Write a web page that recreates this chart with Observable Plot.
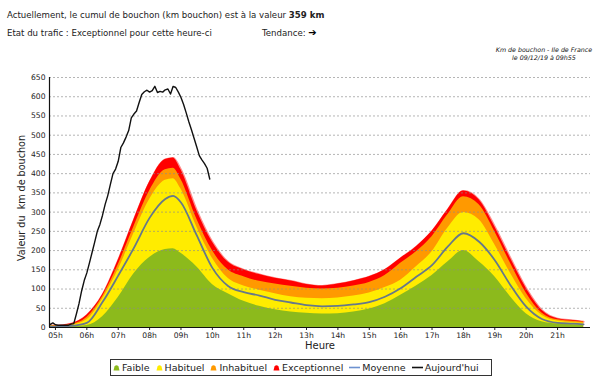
<!DOCTYPE html>
<html>
<head>
<meta charset="utf-8">
<script src="https://cdn.jsdelivr.net/npm/d3@7"></script>
<script src="https://cdn.jsdelivr.net/npm/@observablehq/plot@0.6"></script>
<style>
  html, body { margin: 0; padding: 0; background: #fff; }
  body { font-family: "DejaVu Sans", Verdana, sans-serif; color: #222; }
  #wrap { position: relative; width: 600px; height: 383px; overflow: hidden; }
  .abs { position: absolute; white-space: pre; line-height: 1; }
  #l1 { left: 7px; top: 11px; font-size: 8.6px; }
  #l2 { left: 7px; top: 29px; font-size: 8.6px; }
  #l3 { left: 262px; top: 28px; font-size: 8.6px; }
  #l3 .arr { font-weight: bold; font-size: 10px; color: #000; }
  #note { left: 484px; top: 46px; width: 120px; text-align: center; font-size: 6.3px; font-style: italic; line-height: 1.25; color: #111; }
  #chart { position: absolute; left: 0; top: 60px; }
  #xlab { left: 0; width: 640px; text-align: center; top: 341px; font-size: 10px; }
  #ylab { font-size: 9.6px; left: 22px; top: 198px; transform: translate(-50%, -50%) rotate(-90deg); }
  #legend { position: absolute; left: 110px; top: 359px; width: 382px; height: 17px; border: 1px solid #333; font-size: 9.5px; display: flex; align-items: center; box-sizing: border-box; padding-left: 2px; }
  .item { display: flex; align-items: center; margin-right: 6px; white-space: pre; }
  .item svg { margin-right: 2px; }
</style>
</head>
<body>
<div id="wrap">
  <div id="l1" class="abs">Actuellement, le cumul de bouchon (km bouchon) est à la valeur <b>359 km</b></div>
  <div id="l2" class="abs">Etat du trafic : Exceptionnel pour cette heure-ci</div>
  <div id="l3" class="abs">Tendance: <span class="arr">➔</span></div>
  <div id="note" class="abs">Km de bouchon - Ile de France
le 09/12/19 à 09h55</div>
  <div id="chart"></div>
  <div id="xlab" class="abs">Heure</div>
  <div id="ylab" class="abs">Valeur du  km de bouchon</div>
  <div id="legend"></div>
</div>
<script>
// ---- data (km de bouchon) ----
const hours        = [4.83, 5, 5.5, 6, 6.5, 7, 7.5, 8, 8.5, 8.75, 9, 9.5, 10, 10.5, 11, 11.5, 12, 12.5, 13, 13.5, 14, 14.5, 15, 15.5, 16, 16.5, 17, 17.5, 18, 18.5, 19, 19.5, 20, 20.5, 21, 21.5, 21.83];
const exceptionnel = [6, 5, 10, 32, 85, 175, 280, 378, 437, 441, 410, 305, 222, 170, 150, 138, 128, 121, 112, 108, 113, 121, 132, 150, 180, 210, 250, 306, 355, 332, 262, 180, 102, 45, 23, 18, 15];
const inhabituel   = [5, 4, 8, 26, 80, 163, 262, 355, 410, 414, 385, 283, 200, 150, 132, 120, 113, 107, 102, 100, 102, 108, 117, 135, 167, 197, 236, 293, 340, 319, 249, 167, 90, 38, 20, 16, 14];
const habituel     = [4, 3, 6, 20, 74, 150, 245, 333, 383, 387, 360, 262, 180, 128, 108, 97, 88, 80, 76, 75, 77, 82, 90, 104, 123, 158, 197, 258, 299, 280, 215, 141, 75, 32, 17, 13, 11];
const moyenne      = [3, 2, 4, 12, 66, 135, 207, 285, 334, 342, 325, 240, 155, 108, 92, 83, 72, 65, 58, 55, 56, 60, 66, 80, 102, 132, 162, 210, 245, 223, 175, 110, 54, 22, 12, 10, 8];
const faible       = [2, 1, 2, 5, 28, 78, 140, 182, 203, 205, 193, 158, 112, 88, 68, 55, 46, 40, 37, 35, 36, 40, 48, 62, 84, 108, 135, 170, 200, 171, 132, 80, 36, 15, 9, 7, 5];

const todayTimes  = ["04h50","04h55","05h00","05h05","05h10","05h15","05h20","05h25","05h30","05h35","05h40","05h45","05h50","05h55",
                     "06h00","06h05","06h10","06h15","06h20","06h25","06h30","06h35","06h40","06h45","06h50","06h55",
                     "07h00","07h05","07h10","07h15","07h20","07h25","07h30","07h35","07h40","07h45","07h50","07h55",
                     "08h00","08h05","08h10","08h15","08h20","08h25","08h30","08h35","08h40","08h45","08h50","08h55",
                     "09h00","09h05","09h10","09h15","09h20","09h25","09h30","09h35","09h40","09h45","09h50","09h55"];
const todayValues = [8, 12, 7, 6, 6, 6, 6, 6, 9, 10, 35, 62, 95, 122,
                     142, 168, 195, 222, 250, 268, 292, 320, 343, 372, 400, 412,
                     432, 468, 480, 495, 512, 545, 555, 563, 585, 606, 613, 617,
                     612, 616, 627, 611, 614, 612, 618, 620, 607, 627, 624, 612,
                     598, 580, 558, 535, 514, 492, 470, 447, 436, 426, 414, 386];

const xTickLabels = ["05h","06h","07h","08h","09h","10h","11h","12h","13h","14h","15h","16h","17h","18h","19h","20h","21h"];
const yTickValues = [0, 50, 100, 150, 200, 250, 300, 350, 400, 450, 500, 550, 600, 650];

const legendItems = [
  {label: "Faible", color: "#8cba1c", type: "area"},
  {label: "Habituel", color: "#ffec00", type: "area"},
  {label: "Inhabituel", color: "#ff9900", type: "area"},
  {label: "Exceptionnel", color: "#ff0000", type: "area"},
  {label: "Moyenne", color: "#6d92d0", type: "line"},
  {label: "Aujourd'hui", color: "#111111", type: "line"}
];

// ---- build tables ----
const bands = hours.map((h, i) => ({h, R: exceptionnel[i], O: inhabituel[i], Y: habituel[i], M: moyenne[i], G: faible[i]}));
const parseT = s => +s.slice(0, 2) + (+s.slice(3, 5)) / 60;
const today = todayTimes.map((t, i) => ({h: parseT(t), v: todayValues[i]}));
const xTickValues = xTickLabels.map(s => parseInt(s, 10));

const curve = "monotone-x";
const chart = Plot.plot({
  width: 600,
  height: 290,
  marginTop: 17,
  marginBottom: 23,
  marginLeft: 49,
  marginRight: 10,
  style: {fontFamily: "DejaVu Sans, Verdana, sans-serif", fontSize: "7.6px", color: "#222", background: "transparent"},
  x: {domain: [4.81, 22.05], ticks: xTickValues, tickFormat: d => xTickLabels[xTickValues.indexOf(d)], tickSize: 3, tickPadding: 2, label: null},
  y: {domain: [0, 650], ticks: yTickValues, tickSize: 0, tickPadding: 4, label: null},
  marks: [
    Plot.areaY(bands, {x: "h", y: "R", fill: "#ff0000", curve}),
    Plot.lineY(bands, {x: "h", y: "R", stroke: "#ff0000", strokeWidth: 2, strokeOpacity: 0.45, curve}),
    Plot.areaY(bands, {x: "h", y: "O", fill: "#ff9900", curve}),
    Plot.areaY(bands, {x: "h", y: "Y", fill: "#ffec00", curve}),
    Plot.areaY(bands, {x: "h", y: "G", fill: "#8cba1c", curve}),
    Plot.gridY(yTickValues.filter(d => d > 0), {stroke: "#8a8a8a", strokeOpacity: 0.8, strokeDasharray: "2,2", strokeWidth: 0.8}),
    Plot.lineY(bands, {x: "h", y: "M", stroke: "#66788a", strokeWidth: 1.8, curve}),
    Plot.lineY(today, {x: "h", y: "v", stroke: "#111", strokeWidth: 1.4}),
    Plot.ruleY([0], {stroke: "#111", strokeWidth: 1.2}),
    Plot.ruleX([4.81], {stroke: "#111", strokeWidth: 1.2})
  ]
});
document.getElementById("chart").appendChild(chart);

// ---- legend ----
const leg = document.getElementById("legend");
for (const it of legendItems) {
  const d = document.createElement("div");
  d.className = "item";
  const icon = it.type === "area"
    ? `<svg width="7" height="7" viewBox="0 0 7 7"><path d="M0.5,6.5 L1.5,2.5 Q3.5,0 5.5,2.5 L6.5,6.5 Z" fill="${it.color}"/></svg>`
    : `<svg width="11" height="7" viewBox="0 0 11 7"><line x1="0" y1="3.5" x2="11" y2="3.5" stroke="${it.color}" stroke-width="1.6"/></svg>`;
  d.innerHTML = icon + `<span>${it.label}</span>`;
  leg.appendChild(d);
}
</script>
</body>
</html>
